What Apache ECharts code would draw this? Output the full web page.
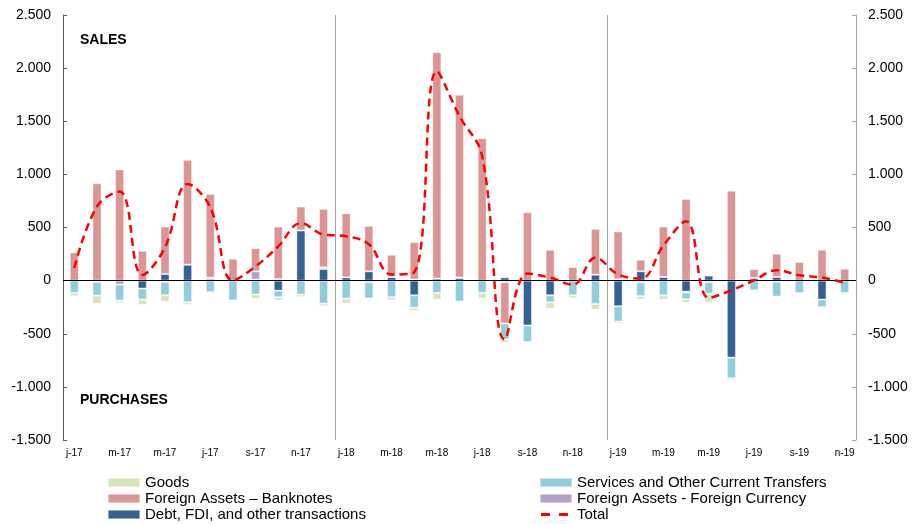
<!DOCTYPE html>
<html>
<head>
<meta charset="utf-8">
<script src="https://cdn.jsdelivr.net/npm/echarts@6/dist/echarts.min.js"></script>
<style>
  html, body { margin: 0; padding: 0; background: #fff; }
  #chart { width: 915px; height: 524px; }
</style>
</head>
<body>
<div id="chart"></div>
<script>
// Monthly flows, Jan 2017 – Nov 2019
const months = [
  'j-17','f-17','m-17','a-17','m-17','j-17','j-17','a-17','s-17','o-17','n-17','d-17',
  'j-18','f-18','m-18','a-18','m-18','j-18','j-18','a-18','s-18','o-18','n-18','d-18',
  'j-19','f-19','m-19','a-19','m-19','j-19','j-19','a-19','s-19','o-19','n-19'
];

const debtFdiOther = [
  0, 0, 0, -75, 62, 150, 16, 0, 10, -94, 472, 109,
  31, 88, 34, -138, 19, 25, 0, 31, -422, -138, 0, 56,
  -241, 88, 34, -103, 47, -725, 25, 34, 0, -178, 0
];
const foreignCurrency = [
  0, -12, -37, 0, -12, 0, 12, 0, 78, 15, 0, 16,
  0, -15, 0, 10, 0, 5, 0, -15, 0, 0, 0, 0,
  13, -15, 0, -10, -15, 0, 0, -10, 0, 0, 0
];
const banknotes = [
  266, 916, 1047, 281, 447, 987, 788, 206, 218, 494, 225, 550,
  603, 428, 210, 353, 2131, 1720, 1341, -388, 644, 291, 128, 431,
  450, 109, 475, 769, 0, 847, 84, 219, 175, 291, 112
];
const services = [
  -116, -128, -150, -103, -125, -203, -109, -187, -131, -62, -131, -216,
  -169, -153, -156, -116, -116, -197, -116, -150, -156, -66, -138, -219,
  -144, -131, -138, -62, -110, -194, -91, -140, -116, -72, -116
];
const goods = [
  -31, -78, -22, -50, -60, -25, -16, -16, -41, -31, -25, -25,
  -47, -6, -31, -31, -62, -6, -53, -31, 0, -59, -28, -53,
  -19, -31, -41, -34, -84, -19, -15, -5, -9, -12, -16
];
const total = [
  119, 698, 838, 53, 312, 909, 691, 3, 134, 322, 541, 434,
  418, 342, 57, 78, 1972, 1547, 1172, -553, 66, 28, -38, 215,
  59, 20, 330, 560, -162, -91, 3, 98, 50, 29, -20
];

const yTicks = { min: -1500, max: 2500, step: 500 };

function fmt(v) {
  const s = Math.abs(v).toString().replace(/\B(?=(\d{3})+(?!\d))/g, '.');
  return (v < 0 ? '-' : '') + s;
}

const FONT = '"Liberation Sans", Arial, sans-serif';

function barSeries(name, data, color) {
  return {
    name: name,
    type: 'bar',
    stack: 'flows',
    data: data,
    barWidth: '40%',
    itemStyle: { color: color, borderColor: 'rgba(255,255,255,0.45)', borderWidth: 1 },
    emphasis: { disabled: true }
  };
}

const yAxisBase = {
  type: 'value',
  min: yTicks.min,
  max: yTicks.max,
  interval: yTicks.step,
  splitLine: { show: false },
  axisLabel: { fontFamily: FONT, fontSize: 14, color: '#000', margin: 12, formatter: fmt }
};

// two short red dashes inside a 32x9 icon box (corner specks fix the box size)
const dashIcon = 'path://M0,0h0.05v0.05h-0.05Z M31.95,8.95h0.05v0.05h-0.05Z M1,3h9v3h-9Z M19,3h9v3h-9Z';

const legendText = { fontFamily: FONT, fontSize: 15, color: '#000', lineHeight: 16 };

const chart = echarts.init(document.getElementById('chart'), null, { renderer: 'canvas' });

chart.setOption({
  animation: false,
  backgroundColor: '#fff',
  grid: { left: 63, right: 59, top: 15, bottom: 84, containLabel: false },
  xAxis: {
    type: 'category',
    data: months,
    boundaryGap: true,
    axisLine: { show: false },
    axisTick: { show: false },
    axisLabel: { interval: 1, fontFamily: FONT, fontSize: 10, color: '#000', margin: 8 },
    splitLine: {
      show: true,
      interval: function (index) { return index === 12 || index === 24; },
      lineStyle: { color: '#a6a6a6', width: 1 }
    }
  },
  yAxis: [
    Object.assign({}, yAxisBase, {
      position: 'left',
      axisLine: { show: true, lineStyle: { color: '#5a5a5a', width: 1 } },
      axisTick: { show: true, inside: true, length: 4, lineStyle: { color: '#5a5a5a' } }
    }),
    Object.assign({}, yAxisBase, {
      position: 'right',
      axisLine: { show: true, lineStyle: { color: '#a6a6a6', width: 1 } },
      axisTick: { show: true, inside: true, length: 4, lineStyle: { color: '#a6a6a6' } }
    })
  ],
  legend: [
    {
      orient: 'vertical', left: 107, top: 474.5, height: 60, padding: 0,
      itemWidth: 32, itemHeight: 9, itemGap: 0,
      icon: 'rect',
      textStyle: legendText,
      data: ['Goods', 'Foreign Assets – Banknotes', 'Debt, FDI, and other transactions']
    },
    {
      orient: 'vertical', left: 539, top: 474.5, height: 60, padding: 0,
      itemWidth: 32, itemHeight: 9, itemGap: 0,
      textStyle: legendText,
      data: [
        { name: 'Services and Other Current Transfers', icon: 'rect' },
        { name: 'Foreign Assets - Foreign Currency', icon: 'rect' },
        { name: 'Total', icon: dashIcon, itemStyle: { color: '#ff0000', borderWidth: 0 } }
      ]
    }
  ],
  graphic: [
    { type: 'text', left: 80, top: 33, style: { text: 'SALES', font: 'bold 14px ' + FONT, fill: '#000' } },
    { type: 'text', left: 80, top: 393, style: { text: 'PURCHASES', font: 'bold 14px ' + FONT, fill: '#000' } }
  ],
  series: [
    barSeries('Debt, FDI, and other transactions', debtFdiOther, '#376092'),
    barSeries('Foreign Assets - Foreign Currency', foreignCurrency, '#b3a2c7'),
    barSeries('Foreign Assets – Banknotes', banknotes, '#d99694'),
    barSeries('Services and Other Current Transfers', services, '#92cddc'),
    barSeries('Goods', goods, '#d7e4bd'),
    {
      name: 'Total',
      type: 'line',
      data: total,
      smooth: 0.4,
      symbol: 'none',
      z: 5,
      lineStyle: { color: '#ff0000', width: 2.5, type: [8, 5] },
      itemStyle: { color: '#ff0000' },
      emphasis: { disabled: true },
      markLine: {
        silent: true,
        symbol: 'none',
        label: { show: false },
        lineStyle: { color: '#000', width: 1, type: 'solid' },
        data: [{ yAxis: 0 }]
      }
    }
  ]
});
</script>
</body>
</html>
